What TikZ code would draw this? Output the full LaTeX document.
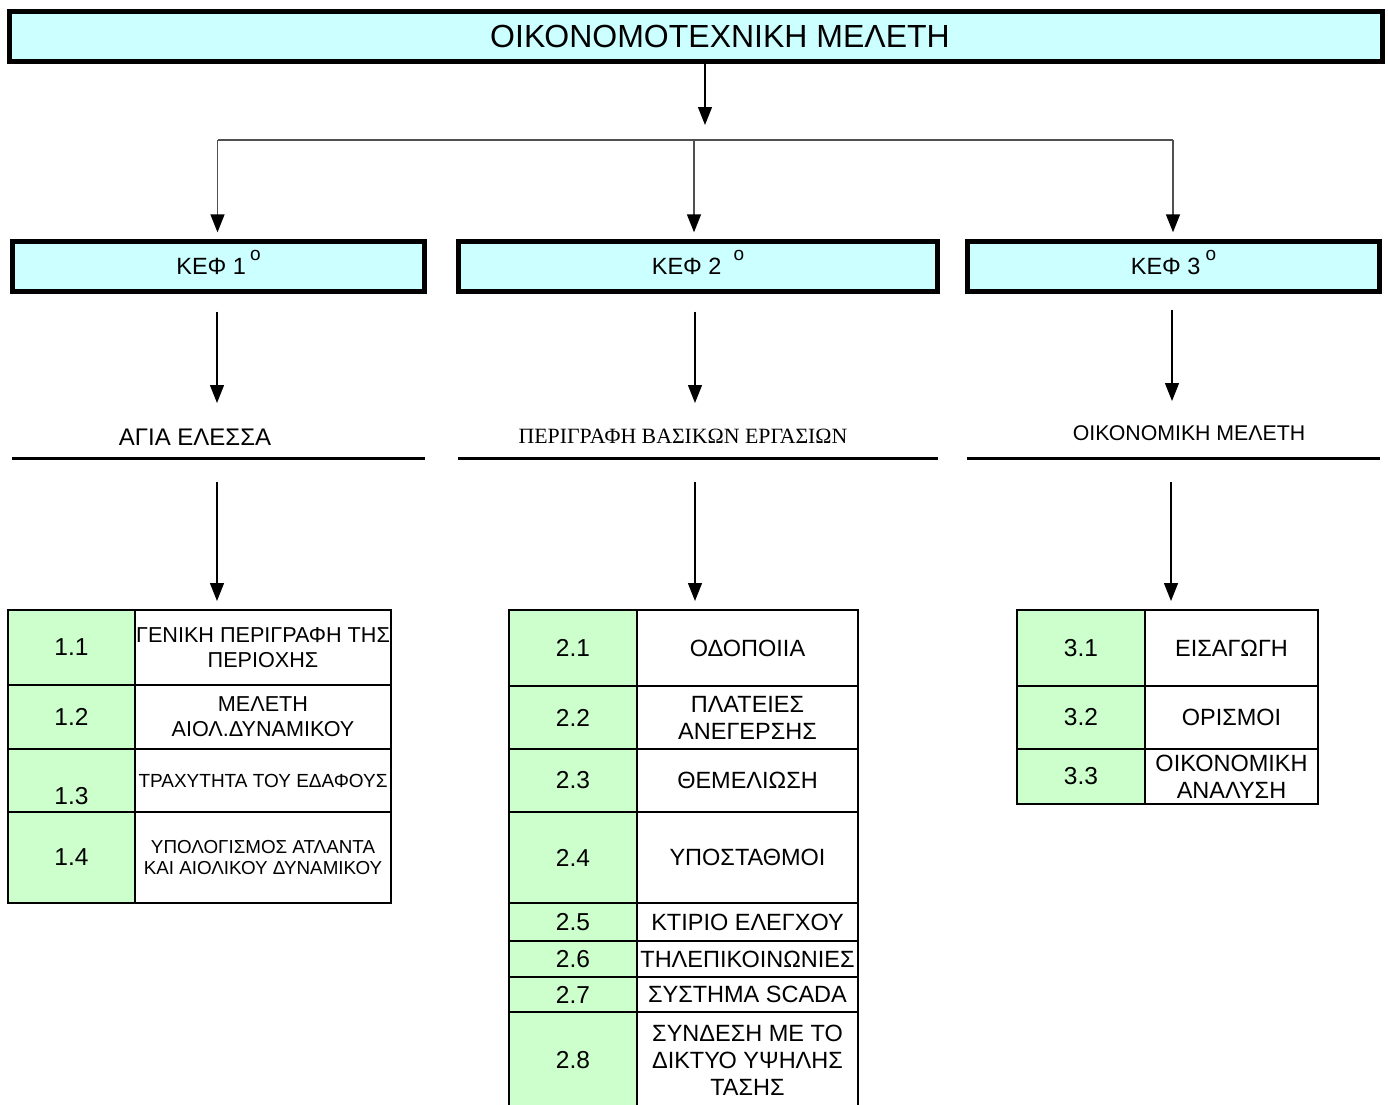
\documentclass[tikz,border=0pt]{standalone}
\usepackage{fontspec}
\setmainfont{Liberation Sans}
\newfontfamily\serifgr{Liberation Serif}
\usetikzlibrary{arrows.meta, positioning}

\definecolor{headcyan}{HTML}{CCFFFF}
\definecolor{numgreen}{HTML}{CCFFCC}
\definecolor{busgrey}{HTML}{505050}

\newcommand{\fs}[1]{\fontsize{#1}{1.15\dimexpr #1pt\relax}\selectfont}
\newcommand{\kefdeg}[1]{\hspace{#1}\smash{\raisebox{14pt}{\fontsize{19}{19}\selectfont o}}}

\begin{document}
\begin{tikzpicture}[
    x=1pt, y=-1pt,
    headbox/.style={
        draw,
        line width=4.5pt,
        fill=headcyan,
        inner sep=0pt,
        outer sep=0pt
    },
    numcell/.style={
        draw,
        line width=2pt,
        fill=numgreen,
        inner sep=0pt,
        outer sep=0pt,
        font=\fs{24.5}
    },
    txtcell/.style={
        draw,
        line width=2pt,
        fill=white,
        inner sep=0pt,
        outer sep=0pt,
        align=center,
        font=\fs{23.5}
    },
    arrow/.style={-{Triangle[width=14pt, length=18pt]}, line width=1.3pt},
    busarrow/.style={-{Triangle[width=14pt, length=18pt, color=black]}, line width=1.5pt, draw=busgrey},
    rule/.style={line width=3pt}
]
\useasboundingbox (0,0) rectangle (1388,1104);

% ------------------------
% Title
% ------------------------
\node[headbox, minimum width=1373pt, minimum height=50.4pt, font=\fs{32}] (title) at (696,36.5)
    {\hspace{48pt}ΟΙΚΟΝΟΜΟΤΕΧΝΙΚΗ ΜΕΛΕΤΗ};

% ------------------------
% Chapters
% ------------------------
\node[headbox, minimum width=412.4pt, minimum height=50.4pt, font=\fs{23.5}] (kef1) at (218.5,266.5)
    {ΚΕΦ 1\kefdeg{4pt}};
\node[headbox, minimum width=479.4pt, minimum height=50.4pt, font=\fs{23.5}] (kef2) at (698,266.5)
    {ΚΕΦ 2\kefdeg{12pt}\hspace{9pt}};
\node[headbox, minimum width=412.4pt, minimum height=50.4pt, font=\fs{23.5}] (kef3) at (1173.5,266.5)
    {ΚΕΦ 3\kefdeg{5pt}};

% ------------------------
% Bus from the title
% ------------------------
\coordinate (bw) at (217.5,140);
\coordinate (bm) at (694,140);
\coordinate (be) at (1173,140);

\draw[arrow, shorten >=15pt] ([xshift=9pt]title.south) -- ([xshift=9pt]title.south |- bw);
\draw[busgrey, line width=1.5pt] (bw) -- (be);
\draw[busarrow, shorten >=9pt] (bw) -- (bw |- kef1.north);
\draw[busarrow, shorten >=9pt] (bm) -- (bm |- kef2.north);
\draw[busarrow, shorten >=9pt] (be) -- (be |- kef3.north);

% ------------------------
% Chapter titles
% ------------------------
\node[inner sep=0pt, font=\fs{24}] (lab1) at (195,437) {ΑΓΙΑ ΕΛΕΣΣΑ};
\node[inner sep=0pt, font=\serifgr\fs{21.8}] (lab2) at (683,436) {ΠΕΡΙΓΡΑΦΗ ΒΑΣΙΚΩΝ ΕΡΓΑΣΙΩΝ};
\node[inner sep=0pt, font=\fs{21.3}] (lab3) at (1189,433) {ΟΙΚΟΝΟΜΙΚΗ ΜΕΛΕΤΗ};

\coordinate (u1) at (217,458);
\coordinate (u2) at (695,458);
\coordinate (u3) at (1172,458);

\draw[rule] (u1 -| kef1.west) -- (u1 -| kef1.east);
\draw[rule] (u2 -| kef2.west) -- (u2 -| kef2.east);
\draw[rule] (u3 -| kef3.west) -- (u3 -| kef3.east);

\draw[arrow, shorten <=20pt, shorten >=55pt] (kef1.south -| u1) -- (u1);
\draw[arrow, shorten <=20pt, shorten >=55pt] (kef2.south -| u2) -- (u2);
\draw[arrow, shorten <=18pt, shorten >=57pt] (kef3.south -| u3) -- (u3);

% ------------------------
% Table of chapter 1
% ------------------------
\node[numcell, minimum width=127pt, minimum height=75pt, anchor=north west] (n11) at (8,610) {1.1};
\node[txtcell, minimum width=256pt, minimum height=75pt, right=0pt of n11, font=\fs{21.6}] (t11)
    {ΓΕΝΙΚΗ ΠΕΡΙΓΡΑΦΗ ΤΗΣ\\ΠΕΡΙΟΧΗΣ};
\node[numcell, minimum width=127pt, minimum height=64pt, below=0pt of n11] (n12) {1.2};
\node[txtcell, minimum width=256pt, minimum height=64pt, right=0pt of n12, font=\fs{21.6}] (t12)
    {ΜΕΛΕΤΗ\\ΑΙΟΛ.ΔΥΝΑΜΙΚΟΥ};
\node[numcell, minimum width=127pt, minimum height=63pt, below=0pt of n12,
      text height=47pt, text depth=0pt] (n13) {1.3};
\node[txtcell, minimum width=256pt, minimum height=63pt, right=0pt of n13, font=\fs{19}] (t13)
    {ΤΡΑΧΥΤΗΤΑ ΤΟΥ ΕΔΑΦΟΥΣ};
\node[numcell, minimum width=127pt, minimum height=91pt, below=0pt of n13] (n14) {1.4};
\node[txtcell, minimum width=256pt, minimum height=91pt, right=0pt of n14, font=\fs{18.8}] (t14)
    {ΥΠΟΛΟΓΙΣΜΟΣ ΑΤΛΑΝΤΑ\\ΚΑΙ ΑΙΟΛΙΚΟΥ ΔΥΝΑΜΙΚΟΥ};

% ------------------------
% Table of chapter 2
% ------------------------
\node[numcell, minimum width=128pt, minimum height=76pt, anchor=north west] (n21) at (509,610) {2.1};
\node[txtcell, minimum width=221pt, minimum height=76pt, right=0pt of n21] (t21) {ΟΔΟΠΟΙΙΑ};
\node[numcell, minimum width=128pt, minimum height=63pt, below=0pt of n21] (n22) {2.2};
\node[txtcell, minimum width=221pt, minimum height=63pt, right=0pt of n22] (t22) {ΠΛΑΤΕΙΕΣ\\ΑΝΕΓΕΡΣΗΣ};
\node[numcell, minimum width=128pt, minimum height=63pt, below=0pt of n22] (n23) {2.3};
\node[txtcell, minimum width=221pt, minimum height=63pt, right=0pt of n23] (t23) {ΘΕΜΕΛΙΩΣΗ};
\node[numcell, minimum width=128pt, minimum height=91pt, below=0pt of n23] (n24) {2.4};
\node[txtcell, minimum width=221pt, minimum height=91pt, right=0pt of n24] (t24) {ΥΠΟΣΤΑΘΜΟΙ};
\node[numcell, minimum width=128pt, minimum height=38pt, below=0pt of n24] (n25) {2.5};
\node[txtcell, minimum width=221pt, minimum height=38pt, right=0pt of n25] (t25) {ΚΤΙΡΙΟ ΕΛΕΓΧΟΥ};
\node[numcell, minimum width=128pt, minimum height=36pt, below=0pt of n25] (n26) {2.6};
\node[txtcell, minimum width=221pt, minimum height=36pt, right=0pt of n26] (t26) {ΤΗΛΕΠΙΚΟΙΝΩΝΙΕΣ};
\node[numcell, minimum width=128pt, minimum height=35pt, below=0pt of n26] (n27) {2.7};
\node[txtcell, minimum width=221pt, minimum height=35pt, right=0pt of n27] (t27) {ΣΥΣΤΗΜΑ SCADA};
\node[numcell, minimum width=128pt, minimum height=96pt, below=0pt of n27] (n28) {2.8};
\node[txtcell, minimum width=221pt, minimum height=96pt, right=0pt of n28] (t28)
    {ΣΥΝΔΕΣΗ ΜΕ ΤΟ\\ΔΙΚΤΥΟ ΥΨΗΛΗΣ\\ΤΑΣΗΣ};

% ------------------------
% Table of chapter 3
% ------------------------
\node[numcell, minimum width=128pt, minimum height=76pt, anchor=north west] (n31) at (1017,610) {3.1};
\node[txtcell, minimum width=173pt, minimum height=76pt, right=0pt of n31] (t31) {ΕΙΣΑΓΩΓΗ};
\node[numcell, minimum width=128pt, minimum height=63pt, below=0pt of n31] (n32) {3.2};
\node[txtcell, minimum width=173pt, minimum height=63pt, right=0pt of n32] (t32) {ΟΡΙΣΜΟΙ};
\node[numcell, minimum width=128pt, minimum height=55pt, below=0pt of n32] (n33) {3.3};
\node[txtcell, minimum width=173pt, minimum height=55pt, right=0pt of n33] (t33) {ΟΙΚΟΝΟΜΙΚΗ\\ΑΝΑΛΥΣΗ};

% ------------------------
% Arrows to the tables
% ------------------------
\draw[arrow, shorten <=24pt, shorten >=9pt] (u1) -- (u1 |- n11.north);
\draw[arrow, shorten <=24pt, shorten >=9pt] (u2) -- (u2 |- n21.north);
\draw[arrow, shorten <=24pt, shorten >=9pt] ([xshift=-1pt]u3) -- ([xshift=-1pt]u3 |- n31.north);

\end{tikzpicture}
\end{document}
